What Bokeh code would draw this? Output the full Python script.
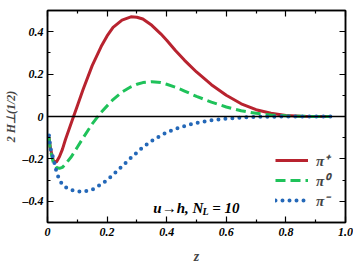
import math
from bokeh.plotting import figure
from bokeh.models import (LinearAxis, Span, Label, Legend, LegendItem, FixedTicker)
from bokeh.embed import file_html
from bokeh.resources import INLINE

z = [0.005, 0.01, 0.02, 0.03, 0.04, 0.05, 0.06, 0.08, 0.10, 0.12, 0.15, 0.18, 0.20, 0.22,
     0.25, 0.28, 0.30, 0.32, 0.35, 0.38, 0.40, 0.43, 0.46, 0.50, 0.55, 0.60, 0.65, 0.70,
     0.75, 0.80, 0.85, 0.90, 0.95]
pi_plus = [-0.10, -0.15, -0.21, -0.215, -0.19, -0.155, -0.11, -0.03, 0.05, 0.13, 0.24, 0.33,
           0.38, 0.42, 0.455, 0.47, 0.468, 0.46, 0.43, 0.39, 0.36, 0.31, 0.265, 0.21, 0.15,
           0.10, 0.06, 0.032, 0.015, 0.005, 0.001, 0.0, 0.0]
pi_zero = [-0.10, -0.16, -0.22, -0.24, -0.245, -0.24, -0.225, -0.19, -0.145, -0.10, -0.035,
           0.02, 0.05, 0.08, 0.115, 0.14, 0.152, 0.16, 0.164, 0.16, 0.152, 0.138, 0.12, 0.095,
           0.068, 0.045, 0.027, 0.015, 0.007, 0.003, 0.001, 0.0, 0.0]
pi_minus = [-0.09, -0.15, -0.20, -0.26, -0.30, -0.32, -0.333, -0.347, -0.354, -0.355, -0.345,
            -0.32, -0.30, -0.275, -0.235, -0.195, -0.17, -0.145, -0.115, -0.09, -0.075, -0.058,
            -0.045, -0.03, -0.018, -0.01, -0.005, -0.002, -0.001, 0.0, 0.0, 0.0, 0.0]

x_ticks = [0, 0.2, 0.4, 0.6, 0.8, 1.0]
x_tick_labels = ["0", "0.2", "0.4", "0.6", "0.8", "1.0"]
y_ticks = [-0.4, -0.2, 0, 0.2, 0.4]
y_tick_labels = ["–0.4", "–0.2", "0", "0.2", "0.4"]
x_minor = [0.1, 0.3, 0.5, 0.7, 0.9]
y_minor = [-0.5, -0.3, -0.1, 0.1, 0.3, 0.5]

FONT = "Liberation Serif"

p = figure(width=353, height=265, x_range=(0, 1), y_range=(-0.5, 0.5),
           output_backend="svg", toolbar_location=None,
           min_border_left=46, min_border_right=9, min_border_top=10, min_border_bottom=43)
p.frame_width = 298
p.frame_height = 212
p.grid.visible = False
p.outline_line_color = "black"
p.outline_line_width = 1.5
p.background_fill_color = "white"
p.border_fill_color = "white"

def style_axis(ax, ticks, labels, show_labels=True):
    ax.axis_line_color = "black"
    ax.axis_line_width = 1.5
    ax.major_tick_in = 6
    ax.major_tick_out = 0
    ax.minor_tick_in = 3
    ax.minor_tick_out = 0
    ax.major_tick_line_color = "black"
    ax.minor_tick_line_color = "black"
    ax.major_tick_line_width = 1.2
    ax.minor_tick_line_width = 1.2
    ax.major_label_text_font = FONT
    ax.major_label_text_font_style = "bold italic"
    ax.major_label_text_font_size = "12px"
    ax.major_label_text_color = "black"
    ax.major_label_standoff = 5
    if show_labels:
        ax.major_label_overrides = dict(zip(ticks, labels))
    else:
        ax.major_label_overrides = {t: "" for t in ticks}
        ax.major_label_standoff = 0

p.xaxis.ticker = FixedTicker(ticks=x_ticks, minor_ticks=x_minor)
p.yaxis.ticker = FixedTicker(ticks=y_ticks, minor_ticks=y_minor)
for ax in p.xaxis:
    style_axis(ax, x_ticks, x_tick_labels)
for ax in p.yaxis:
    style_axis(ax, y_ticks, y_tick_labels)
p.yaxis.major_label_standoff = 4
p.xaxis.axis_label = "z"
p.xaxis.axis_label_text_font = FONT
p.xaxis.axis_label_text_font_style = "bold italic"
p.xaxis.axis_label_text_font_size = "14px"
p.xaxis.axis_label_standoff = 10
p.yaxis.axis_label = "2 H⊥(1/2)"
p.yaxis.axis_label_text_font = FONT
p.yaxis.axis_label_text_font_style = "bold italic"
p.yaxis.axis_label_text_font_size = "12px"
p.yaxis.axis_label_standoff = 2

top = LinearAxis(ticker=FixedTicker(ticks=x_ticks, minor_ticks=x_minor))
style_axis(top, x_ticks, x_tick_labels, show_labels=False)
p.add_layout(top, "above")
right = LinearAxis(ticker=FixedTicker(ticks=y_ticks, minor_ticks=y_minor))
style_axis(right, y_ticks, y_tick_labels, show_labels=False)
p.add_layout(right, "right")

p.add_layout(Span(location=0, dimension="width", line_color="black", line_width=1.5))

r1 = p.line(z, pi_plus, line_color="#B8232F", line_width=3)
r2 = p.line(z, pi_zero, line_color="#1FC25A", line_width=3, line_dash="10 5")
r3 = p.line(z, pi_minus, line_color="#2468B8", line_width=4, line_dash="0 7", line_cap="round")

legend = Legend(items=[LegendItem(label="π⁺", renderers=[r1]),
                       LegendItem(label="π⁰", renderers=[r2]),
                       LegendItem(label="π⁻", renderers=[r3])],
                location=(228, 12), glyph_width=33, glyph_height=16, spacing=0,
                padding=0, label_standoff=8, border_line_color=None,
                background_fill_alpha=0, label_text_font=FONT,
                label_text_font_style="bold italic", label_text_font_size="15px",
                label_text_line_height=0.85, label_height=16)
p.add_layout(legend)

def lab(x, y, t, size, style="bold italic"):
    p.add_layout(Label(x=x, y=y, text=t, text_font=FONT, text_font_style=style,
                       text_font_size=size, text_color="black",
                       text_baseline="alphabetic", text_align="left"))

lab(0.355, -0.432, "u→h, N", "15px")
lab(0.52, -0.447, "L", "10px")
lab(0.553, -0.432, "= 10", "15px")

open("out.html", "w").write(file_html(p, INLINE))
